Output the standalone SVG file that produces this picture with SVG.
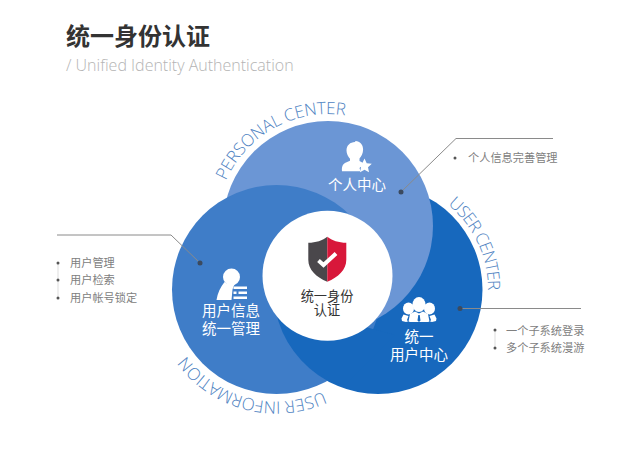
<svg xmlns="http://www.w3.org/2000/svg" width="625" height="449" viewBox="0 0 625 449">
<style>
.cjk{font-family:"Noto Sans CJK SC","Noto Sans",sans-serif}
.lab{font-size:14.5px;fill:#fff;text-anchor:middle}
.lst{font-size:11.2px;fill:#808080}
.arc{font-family:"Open Sans","Liberation Sans",sans-serif;font-size:17px;font-weight:300;fill:#4f83c2}
.lead{fill:none;stroke:#8a8a8a;stroke-width:1}
.dot{fill:#3b4a5f}
.bul{fill:#555}
.rail{stroke:#ddd;stroke-width:1;fill:none}
.ico{fill:#fff}
</style>
<defs>
<path id="pPersonal" d="M226 180.700A112 112 0 0 1 384 128.900"/>
<path id="pUser" d="M447.800 204.500A110 110 0 0 1 481.400 327.100"/>
<path id="pInfo" d="M323 391.400A112 112 0 0 1 166.200 308.900"/>
</defs>
<rect width="625" height="449" fill="#fff"/>
<g id="title">
<text class="cjk" x="66" y="45" font-size="24" font-weight="700" fill="#333">统一身份认证</text>
<text x="66" y="71" font-family="'Open Sans','Liberation Sans',sans-serif" font-size="16" font-weight="300" fill="#b4b4b4">/ Unified Identity Authentication</text>
</g>
<g id="node-user">
<circle cx="378" cy="289.500" r="104.500" fill="#1768bd"/>
</g>
<g id="node-personal">
<circle cx="328" cy="226" r="105" fill="#6b96d5"/>
<text class="arc"><textPath href="#pPersonal" textLength="146">PERSONAL CENTER</textPath></text>
<path class="ico" d="M355.500 141c4.500 0 7.600 3.600 7.600 8.500 0 4-1.800 7-3.600 9v2.500l4.500 2.500-4.500 4.500 1 3.300h-18.500c-.5-5 1-7.500 4-8.800l4-1.800v-2c-2-2-3.500-5-3.500-8.200 0-5 3.700-8.500 8.500-8.500z"/>
<path class="ico" d="M364.500 158.500l2.200 4.700 5.100.6-3.800 3.500 1 5-4.500-2.500-4.500 2.500 1-5-3.800-3.500 5.100-.6z"/>
<text class="cjk lab" x="357" y="190">个人中心</text>
</g>
<g id="node-info">
<circle cx="276.500" cy="289.500" r="104.500" fill="#3f7dc8"/>
<circle class="ico" cx="231.500" cy="277" r="8.500"/>
<path class="ico" d="M224.500 282c3 2.500 8 3 11 1l-2 3.500-1 3-1 10.500h-15c1-7 4-13 8-18z"/>
<path class="ico" d="M233.500 286.500h13.500v2.500h-13.500zM233.500 291.500h3v2.500h-3zM238.500 291.500h8.500v2.500h-8.500zM233.500 296.500h13.500v2.500h-13.500z"/>
<text class="cjk lab" x="231" y="316">用户信息</text>
<text class="cjk lab" x="231" y="334">统一管理</text>
<text class="arc"><textPath href="#pInfo" textLength="153">USER INFORMATION</textPath></text>
</g>
<g id="node-user-front">
<path d="M327.250 380.850A104.500 104.500 0 0 1 275.500 310L340 320L395 335L345 385Z" fill="#1768bd"/>
<text class="arc"><textPath href="#pUser" textLength="98">USER CENTER</textPath></text>
<ellipse class="ico" cx="408.500" cy="308.500" rx="5.500" ry="6"/>
<ellipse class="ico" cx="429.500" cy="308.500" rx="5.500" ry="6"/>
<path class="ico" d="M403.500 314.500l5 1.500-1.500 4 1 1.500-2 .5-4-1-.5-2.500zM434.500 314.500l-5 1.500 1.500 4-1 1.500 2 .5 4-1 .5-2.500z"/>
<ellipse class="ico" cx="419" cy="304.500" rx="6.500" ry="7.500"/>
<path class="ico" d="M415 311.500l-5 2.500-1.500 7.500 1.500.5h18l1.500-.5-1.500-7.500-5-2.500-4 2z"/>
<path d="M418.300 315h1.400l.8 5.500-1.500 1.500-1.500-1.500z" fill="#1768bd"/>
<text class="cjk lab" x="419" y="342">统一</text>
<text class="cjk lab" x="419" y="360">用户中心</text>
</g>
<g id="node-center">
<circle cx="327.500" cy="275.700" r="65" fill="#fff"/>
<path d="M327.300 236.700c-4.500 3.700-11.500 6-19 6v17c0 10 8 17.500 19 22z" fill="#4a474b"/>
<path d="M327.300 236.700c4.500 3.700 11.500 6 19 6v17c0 10-8 17.500-19 22z" fill="#d8173a"/>
<path d="M318.500 260.500l5 4.500 12.500-11.500" fill="none" stroke="#fff" stroke-width="4"/>
<text class="cjk" x="327" y="301" font-size="13.200" fill="#333" text-anchor="middle">统一身份</text>
<text class="cjk" x="327" y="315" font-size="13.200" fill="#333" text-anchor="middle">认证</text>
</g>
<g id="connectors">
<path class="lead" d="M57 235H171L200 263"/>
<circle class="dot" cx="200" cy="263" r="2.500"/>
<path class="lead" d="M553 138.500H456L401 192"/>
<circle class="dot" cx="401" cy="192" r="2.500"/>
<path class="lead" d="M460 308.500H581"/>
<circle class="dot" cx="460" cy="308.500" r="2.500"/>
</g>
<g id="list-info">
<path class="rail" d="M58 263V298"/>
<circle class="bul" cx="58" cy="263" r="1.500"/><circle class="bul" cx="58" cy="280" r="1.500"/><circle class="bul" cx="58" cy="298" r="1.500"/>
<text class="cjk lst" x="70" y="267">用户管理</text>
<text class="cjk lst" x="70" y="284">用户检索</text>
<text class="cjk lst" x="70" y="302">用户帐号锁定</text>
</g>
<g id="list-personal">
<circle class="bul" cx="455" cy="158" r="1.500"/>
<text class="cjk lst" x="468" y="162">个人信息完善管理</text>
</g>
<g id="list-user">
<path class="rail" d="M495 330V348"/>
<circle class="bul" cx="495" cy="330" r="1.500"/><circle class="bul" cx="495" cy="348" r="1.500"/>
<text class="cjk lst" x="506" y="335">一个子系统登录</text>
<text class="cjk lst" x="506" y="352">多个子系统漫游</text>
</g>
</svg>
